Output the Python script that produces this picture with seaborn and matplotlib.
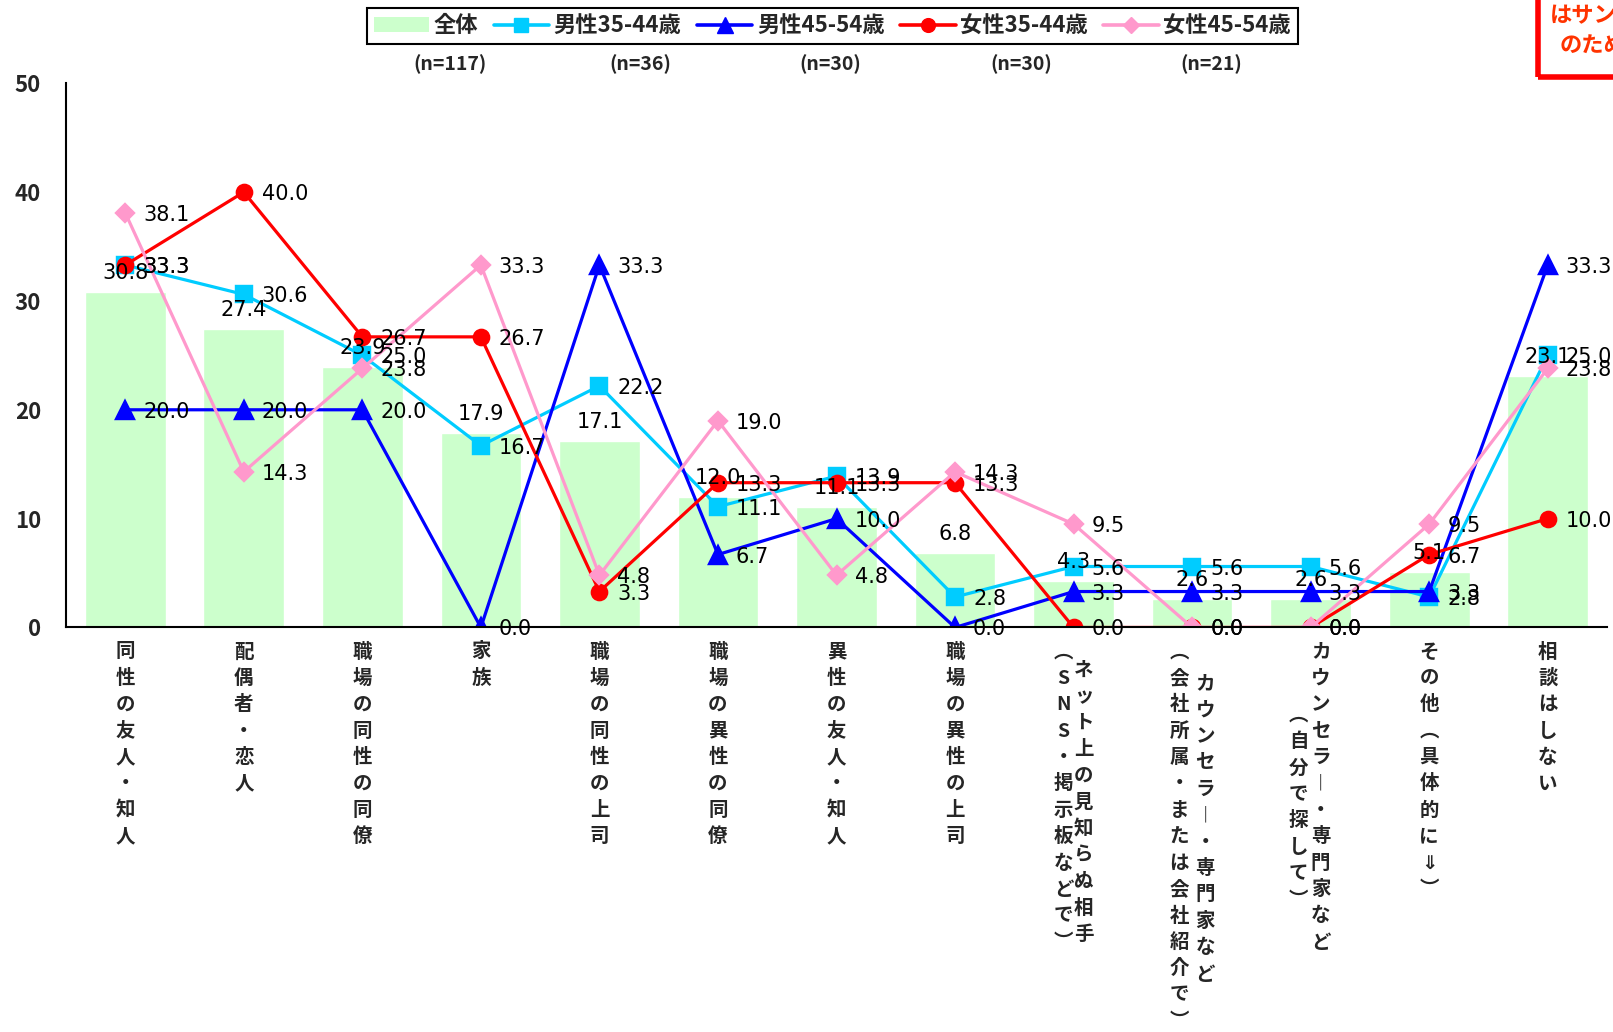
import numpy as np
import matplotlib
matplotlib.use('Agg')
import matplotlib.pyplot as plt
from matplotlib.lines import Line2D
from matplotlib.patches import Patch, Rectangle
import seaborn as sns

sns.set_style('white')
plt.rcParams['font.family'] = ['Noto Sans CJK JP', 'DejaVu Sans']

# data
categories = ['同性の友人・知人', '配偶者・恋人', '職場の同性の同僚', '家族',
              '職場の同性の上司', '職場の異性の同僚', '異性の友人・知人', '職場の異性の上司',
              'ネット上の見知らぬ相手（SNS・掲示板などで）',
              'カウンセラー・専門家など（会社所属・または会社紹介で）',
              'カウンセラー・専門家など（自分で探して）',
              'その他（具体的に⇓）', '相談はしない']
overall = [30.8, 27.4, 23.9, 17.9, 17.1, 12.0, 11.1, 6.8, 4.3, 2.6, 2.6, 5.1, 23.1]
male_35_44 = [33.3, 30.6, 25.0, 16.7, 22.2, 11.1, 13.9, 2.8, 5.6, 5.6, 5.6, 2.8, 25.0]
male_45_54 = [20.0, 20.0, 20.0, 0.0, 33.3, 6.7, 10.0, 0.0, 3.3, 3.3, 3.3, 3.3, 33.3]
female_35_44 = [33.3, 40.0, 26.7, 26.7, 3.3, 13.3, 13.3, 13.3, 0.0, 0.0, 0.0, 6.7, 10.0]
female_45_54 = [38.1, 14.3, 23.8, 33.3, 4.8, 19.0, 4.8, 14.3, 9.5, 0.0, 0.0, 9.5, 23.8]
series_names = ['全体', '男性35-44歳', '男性45-54歳', '女性35-44歳', '女性45-54歳']
n_labels = ['(n=117)', '(n=36)', '(n=30)', '(n=30)', '(n=21)']

bar_color = '#CCFFCC'
lines = [
    (series_names[1], male_35_44, '#00CCFF', 's', 11),
    (series_names[2], male_45_54, '#0000FF', '^', 13),
    (series_names[3], female_35_44, '#FF0000', 'o', 11),
    (series_names[4], female_45_54, '#FF99CC', 'D', 9),
]

fig = plt.figure(figsize=(16.13, 10.32), dpi=100)
ax = fig.add_axes([0.0409, 0.392, 0.9554, 0.5273])

sns.barplot(x=categories, y=overall, color=bar_color, saturation=1, width=0.68,
            ax=ax, zorder=1)
for name, vals, color, mk, ms in lines:
    sns.pointplot(x=categories, y=vals, color=color, markers=mk, markersize=ms,
                  linewidth=2.3, errorbar=None, ax=ax)

lab_font = dict(fontsize=15, family='DejaVu Sans', color='black', zorder=20)
for i, v in enumerate(overall):
    ax.annotate(f'{v:.1f}', (i, v), xytext=(0, 9), textcoords='offset pixels',
                ha='center', va='bottom', **lab_font)
for name, vals, color, mk, ms in lines:
    for i, v in enumerate(vals):
        ax.annotate(f'{v:.1f}', (i, v), xytext=(18, 0), textcoords='offset pixels',
                    ha='left', va='center_baseline', **lab_font)

ax.set_xlim(-0.5, 12.5)
ax.set_ylim(0, 50)
ax.set_yticks(range(0, 51, 10))
ax.set_xticks(np.arange(-0.5, 13, 1))
ax.set_xticklabels([])
ax.set_xlabel('')
ax.set_ylabel('')
ax.tick_params(axis='both', direction='in', length=7, width=1.2, color='black')
ax.tick_params(axis='y', labelsize=16, pad=18)
for lbl in ax.get_yticklabels():
    lbl.set_fontweight('bold')
for s in ['top', 'right']:
    ax.spines[s].set_visible(False)
for s in ['left', 'bottom']:
    ax.spines[s].set_color('black')
    ax.spines[s].set_linewidth(1.5)

# vertical category labels, one glyph per cell, extra columns for bracketed parts
vert = str.maketrans({'（': '︵', '）': '︶', 'ー': '︱'})
layout = {8: [(10, 0.7), (-10, 0.0)], 9: [(13, 1.2), (-13, 0.0)], 10: [(10, 0.0), (-12, 2.4)]}
pitch = 26.4
for i, name in enumerate(categories):
    if i in layout:
        k = name.index('（')
        cols = [name[:k], name[k:]]
        offs = layout[i]
    else:
        cols = [name]
        offs = [(0, 0.0)]
    for text, (dx, dy) in zip(cols, offs):
        for j, ch in enumerate(text.translate(vert)):
            ax.annotate(ch, xy=(i, 0), xycoords=('data', 'axes fraction'),
                        xytext=(dx, -(15 + (j + dy) * pitch)), textcoords='offset pixels',
                        ha='center', va='top', fontsize=14, fontweight='bold',
                        annotation_clip=False)

handles = [Patch(facecolor=bar_color, edgecolor='none', label=series_names[0])]
for name, vals, color, mk, ms in lines:
    handles.append(Line2D([0], [0], color=color, marker=mk, markersize=ms * 0.9,
                          lw=2.6, label=name))
leg = fig.legend(handles=handles, loc='center', bbox_to_anchor=(0.516, 0.975), ncol=5,
                 frameon=True, fancybox=False, edgecolor='black', framealpha=1,
                 prop={'weight': 'bold', 'size': 16}, handlelength=2.5,
                 handletextpad=0.2, columnspacing=0.7, borderpad=0.3)
leg.get_frame().set_linewidth(1.5)

for x, t in zip([0.279, 0.397, 0.515, 0.633, 0.751], n_labels):
    fig.text(x, 0.938, t, ha='center', va='center', fontsize=14, fontweight='bold')

# cropped note box at top right
fig.add_artist(Rectangle((1538 / 1613, 1 - 77 / 1032), 0.1, 0.1, transform=fig.transFigure,
                         fill=False, edgecolor='#FF0000', lw=4))
fig.text(1550 / 1613, 1 - 15.5 / 1032, 'はサン', color='#FF3300', fontsize=16,
         fontweight='bold', va='center', ha='left')
fig.text(1560 / 1613, 1 - 46 / 1032, 'のため', color='#FF3300', fontsize=16,
         fontweight='bold', va='center', ha='left')

fig.savefig('out.png', dpi=100)
